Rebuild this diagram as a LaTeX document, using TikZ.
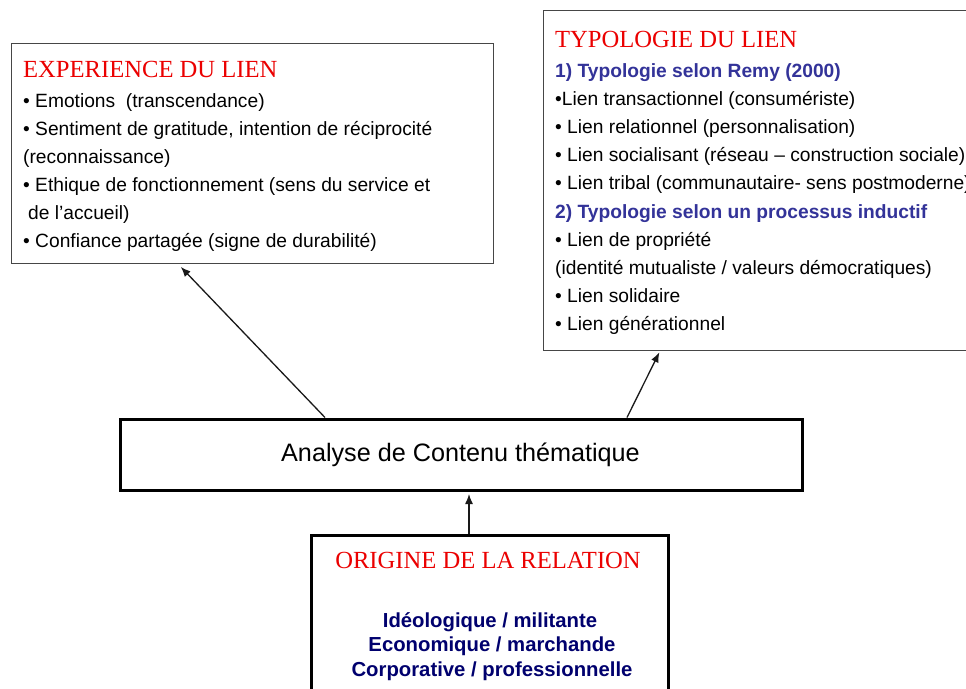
\documentclass[tikz,border=0pt]{standalone}
\usepackage{fontspec}
\setmainfont{Liberation Sans}
\newfontfamily\titlefont{Liberation Serif}
\usetikzlibrary{arrows.meta}
\definecolor{titlered}{RGB}{235,0,0}
\definecolor{subblue}{RGB}{51,51,153}
\definecolor{navyblue}{RGB}{0,0,110}
\definecolor{thinline}{RGB}{70,70,70}
\tikzset{
  thinbox/.style={draw=thinline, line width=1pt, fill=none, inner sep=0pt, anchor=north west},
  thickbox/.style={draw=black, line width=3pt, fill=none, inner sep=0pt, anchor=north west},
  boxtitle/.style={font=\titlefont\fontsize{24.6}{28}\selectfont, text=titlered, inner sep=0pt},
  bodyline/.style={font=\fontsize{19.2}{22}\selectfont, inner sep=0pt, anchor=base west},
  subline/.style={font=\bfseries\fontsize{19.2}{22}\selectfont, text=subblue, inner sep=0pt, anchor=base west},
  originline/.style={font=\bfseries\fontsize{20.3}{24}\selectfont, text=navyblue, inner sep=0pt, anchor=base},
  arr/.style={-{Latex[length=10pt,width=8pt]}, line width=1.3pt, draw=black!90}
}
\begin{document}
\begin{tikzpicture}[x=1pt,y=-1pt]
\useasboundingbox (0,0) rectangle (966,688);
\clip (0,0) rectangle (966,688);
\fill[white] (0,0) rectangle (966,688);

% Boxes
\node[thinbox, minimum width=482pt, minimum height=220pt] (exp) at (10.5,43) {};
\node[thinbox, minimum width=450pt, minimum height=340pt] (typ) at (543,10) {};
\node[thickbox, minimum width=682pt, minimum height=71pt] (mid) at (119,417.5) {};
\node[thickbox, minimum width=357pt, minimum height=190pt] (orig) at (309.5,534) {};

% Left box text
\node[boxtitle, anchor=base west] (expT) at (23,77) {EXPERIENCE DU LIEN};
\node[bodyline] (e1) at (23,107) {• Emotions\ \ (transcendance)};
\node[bodyline] (e2) at (23,135) {• Sentiment de gratitude, intention de réciprocité};
\node[bodyline] (e3) at (23,163) {(reconnaissance)};
\node[bodyline] (e4) at (23,191) {• Ethique de fonctionnement (sens du service et};
\node[bodyline] (e5) at (28,219) {de l’accueil)};
\node[bodyline] (e6) at (23,247) {• Confiance partagée (signe de durabilité)};

% Right box text
\node[boxtitle, anchor=base west] (typT) at (555,47.5) {TYPOLOGIE DU LIEN};
\node[subline] (t1) at (555,77) {1) Typologie selon Remy (2000)};
\node[bodyline] (t2) at (555,105.2) {•Lien transactionnel (consumériste)};
\node[bodyline] (t3) at (555,133.4) {• Lien relationnel (personnalisation)};
\node[bodyline] (t4) at (555,161.6) {• Lien socialisant (réseau – construction sociale)};
\node[bodyline] (t5) at (555,189.8) {• Lien tribal (communautaire- sens postmoderne)};
\node[subline] (t6) at (555,218) {2) Typologie selon un processus inductif};
\node[bodyline] (t7) at (555,246.2) {• Lien de propriété};
\node[bodyline] (t8) at (555,274.4) {(identité mutualiste / valeurs démocratiques)};
\node[bodyline] (t9) at (555,302.6) {• Lien solidaire};
\node[bodyline] (t10) at (555,330.8) {• Lien générationnel};

% Middle text
\node[font=\fontsize{25.2}{28}\selectfont, inner sep=0pt] (midT) at ([xshift=-1pt]mid.center) {Analyse de Contenu thématique};

% Bottom box text
\node[boxtitle, anchor=base] (origT) at (488,568) {ORIGINE DE LA RELATION};
\node[originline] (o1) at (490,627) {Idéologique / militante};
\node[originline] (o2) at (492,651.5) {Economique / marchande};
\node[originline] (o3) at (492,676) {Corporative / professionnelle};

% Connectors
\draw[arr, shorten >=4pt] ([xshift=206pt]mid.north west) -- ([xshift=167.5pt]exp.south west);
\draw[arr, shorten >=1.5pt] ([xshift=508pt]mid.north west) -- ([xshift=117pt]typ.south west);
\draw[arr, shorten >=2.5pt] ([xshift=159.5pt]orig.north west) -- ([xshift=159.5pt]orig.north west |- mid.south);
\end{tikzpicture}
\end{document}
